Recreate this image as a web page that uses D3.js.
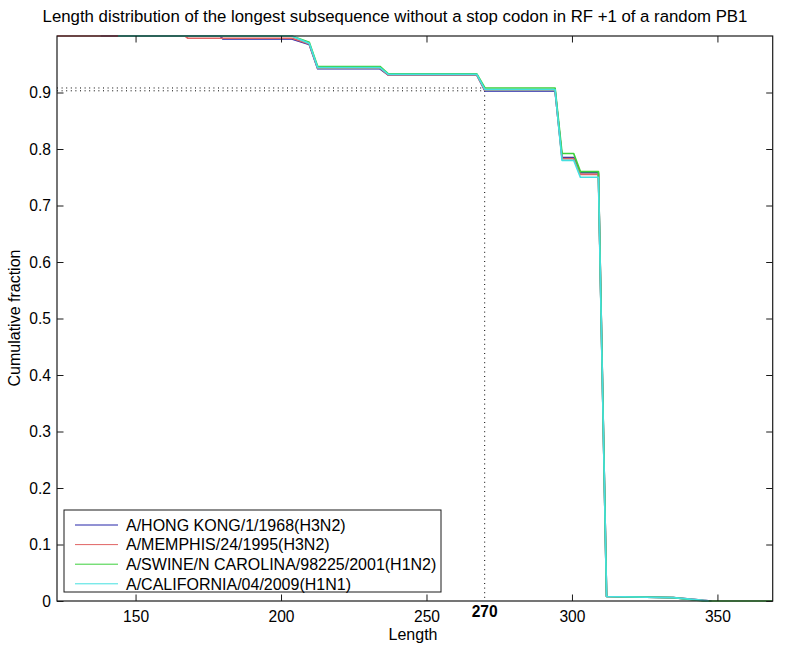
<!DOCTYPE html>
<html>
<head>
<meta charset="utf-8">
<script src="https://cdn.jsdelivr.net/npm/d3@7"></script>
<style>
  html, body { margin: 0; padding: 0; background: #fff; }
  svg { display: block; font-family: "Liberation Sans", Arial, Helvetica, sans-serif; }
</style>
</head>
<body>
<svg id="chart" width="785" height="648"></svg>
<script>
// ---- data ----
const seriesNames = [
  "A/HONG KONG/1/1968(H3N2)",
  "A/MEMPHIS/24/1995(H3N2)",
  "A/SWINE/N CAROLINA/98225/2001(H1N2)",
  "A/CALIFORNIA/04/2009(H1N1)"
];
const seriesColors = ["#2424a8", "#e06464", "#3cd03c", "#44e0e0"];

const hongKong = [[138,1],[179,1],[180,0.995],[203.7,0.995],[209.7,0.985],[212.6,0.942],[234,0.942],[236.9,0.931],[267.3,0.931],[270.1,0.903],[294.2,0.903],[296.6,0.785],[300.6,0.785],[302.9,0.758],[309.1,0.758],[311.9,0.008],[334.8,0.006],[345.2,0.001],[348,0]];
const memphis = [[123,1],[167,1],[168,0.996],[203.7,0.996],[209.7,0.986],[212.6,0.943],[234,0.943],[236.9,0.931],[267.3,0.931],[270.1,0.904],[294.2,0.904],[296.6,0.783],[300.6,0.783],[302.9,0.755],[309.1,0.755],[311.9,0.008],[334.8,0.006],[345.2,0.001],[347,0]];
const swine = [[144,1],[203.7,1],[209.7,0.989],[212.6,0.946],[234,0.946],[236.9,0.933],[267.3,0.933],[270.1,0.908],[294.2,0.908],[296.6,0.792],[300.6,0.792],[302.9,0.760],[309.1,0.760],[311.9,0.008],[334.8,0.006],[345.2,0],[369,0]];
const california = [[144,1],[203.7,1],[209.7,0.987],[212.6,0.944],[234,0.944],[236.9,0.932],[267.3,0.932],[270.1,0.905],[294.2,0.905],[296.6,0.780],[300.6,0.780],[302.9,0.750],[309.1,0.750],[311.9,0.008],[334.8,0.006],[345.2,0.001],[347,0]];
const seriesData = [hongKong, memphis, swine, california];

const xTicks = [150, 200, 250, 300, 350];
const yTicks = [0, 0.1, 0.2, 0.3, 0.4, 0.5, 0.6, 0.7, 0.8, 0.9];
const markLength = 270;
const markFractions = [0.903, 0.908];
const xDomain = [123, 369];
const yDomain = [0, 1];

// ---- layout ----
const L = 57, R = 772.7, T = 36, B = 601;
const svg = d3.select("#chart");
const x = d3.scaleLinear().domain(xDomain).range([L, R]);
const y = d3.scaleLinear().domain(yDomain).range([B, T]);
const tickLen = 6.5;
const fs = 15.6;

// clip
svg.append("defs").append("clipPath").attr("id", "plotclip")
  .append("rect").attr("x", L).attr("y", T - 1).attr("width", R - L).attr("height", B - T + 2);

// reference dotted lines
const refG = svg.append("g").attr("stroke", "#000").attr("stroke-width", 1)
  .attr("stroke-dasharray", "1,3.6").attr("fill", "none");
markFractions.forEach(f => {
  refG.append("line").attr("x1", x(xDomain[0])).attr("x2", x(markLength))
    .attr("y1", y(f)).attr("y2", y(f));
});
refG.append("line").attr("x1", x(markLength)).attr("x2", x(markLength))
  .attr("y1", y(d3.min(markFractions))).attr("y2", y(0));

// series lines
const line = d3.line().x(d => x(d[0])).y(d => y(d[1]));
const plotG = svg.append("g").attr("clip-path", "url(#plotclip)");
seriesData.forEach((s, i) => {
  plotG.append("path").datum(s).attr("d", line)
    .attr("fill", "none").attr("stroke", seriesColors[i])
    .attr("stroke-width", 1.7).attr("stroke-linejoin", "round");
});

// axes (MATLAB style box, inward ticks)
const axisColor = "#1a1a1a";
const axG = svg.append("g");
const xAxisB = d3.axisBottom(x).tickValues(xTicks).tickSizeInner(-tickLen).tickSizeOuter(0).tickPadding(10);
const xAxisT = d3.axisTop(x).tickValues(xTicks).tickSizeInner(-tickLen).tickSizeOuter(0).tickFormat("");
const yAxisL = d3.axisLeft(y).tickValues(yTicks).tickSizeInner(-tickLen).tickSizeOuter(0).tickPadding(6).tickFormat(d => d === 0 ? "0" : d3.format(".1f")(d));
const yAxisR = d3.axisRight(y).tickValues(yTicks).tickSizeInner(-tickLen).tickSizeOuter(0).tickFormat("");

const gxb = axG.append("g").attr("transform", `translate(0,${B})`).call(xAxisB);
const gxt = axG.append("g").attr("transform", `translate(0,${T})`).call(xAxisT);
const gyl = axG.append("g").attr("transform", `translate(${L},0)`).call(yAxisL);
const gyr = axG.append("g").attr("transform", `translate(${R},0)`).call(yAxisR);
[gxb, gxt, gyl, gyr].forEach(g => {
  g.select(".domain").remove();
  g.selectAll(".tick line").attr("stroke", axisColor);
  g.selectAll(".tick text").attr("fill", "#000").attr("font-size", fs)
    .attr("font-family", "'Liberation Sans', Arial, sans-serif");
});
gxb.selectAll(".tick text").attr("dy", "0.71em").attr("y", 10);

// box
svg.append("rect").attr("x", L).attr("y", T).attr("width", R - L).attr("height", B - T)
  .attr("fill", "none").attr("stroke", axisColor).attr("stroke-width", 1.2);

// extra 270 label
svg.append("text").attr("x", x(markLength)).attr("y", 616.5).attr("text-anchor", "middle")
  .attr("font-size", fs).attr("font-weight", "bold").attr("fill", "#000").text(String(markLength));

// title & labels
svg.append("text").attr("x", 395).attr("y", 22).attr("text-anchor", "middle")
  .attr("font-size", 16.8).attr("fill", "#000")
  .text("Length distribution of the longest subsequence without a stop codon in RF +1 of a random PB1");
svg.append("text").attr("x", 413).attr("y", 640).attr("text-anchor", "middle")
  .attr("font-size", 16).attr("fill", "#000").text("Length");
svg.append("text").attr("transform", "translate(20,318) rotate(-90)").attr("text-anchor", "middle")
  .attr("font-size", 16).attr("fill", "#000").text("Cumulative fraction");

// legend
const lg = svg.append("g");
lg.append("rect").attr("x", 64).attr("y", 510).attr("width", 377).attr("height", 82)
  .attr("fill", "#fff").attr("stroke", axisColor).attr("stroke-width", 1);
seriesNames.forEach((n, i) => {
  const yy = 525 + i * 19.6;
  lg.append("line").attr("x1", 75).attr("x2", 118).attr("y1", yy).attr("y2", yy)
    .attr("stroke", seriesColors[i]).attr("stroke-width", 1);
  lg.append("text").attr("x", 126).attr("y", yy).attr("dy", "0.36em")
    .attr("font-size", 16).attr("fill", "#000").text(n);
});
</script>
</body>
</html>
